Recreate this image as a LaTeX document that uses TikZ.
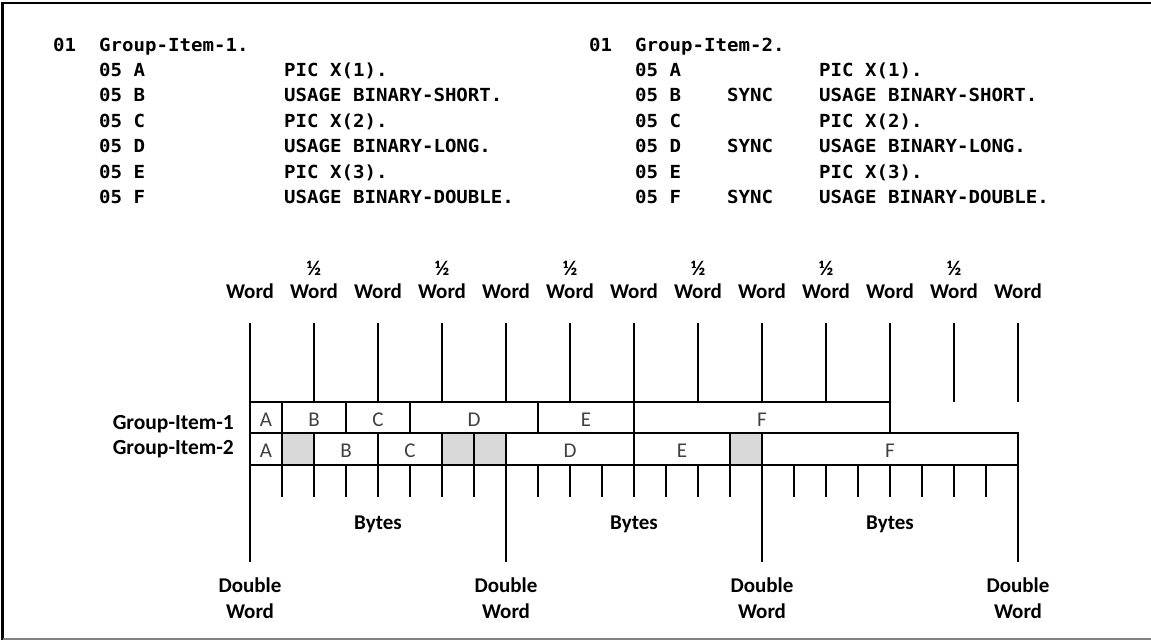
\documentclass[tikz,border=0pt]{standalone}
\usepackage{fontspec}
\setmainfont{Carlito}
\newfontfamily\codefont[FakeStretch=1.06]{DejaVu Sans Mono}
\definecolor{cellgray}{HTML}{D9D9D9}
\definecolor{lettergray}{HTML}{404040}
\begin{document}
\begin{tikzpicture}[x=1pt,y=-1pt,
  ln/.style={line width=2pt},
  code/.style={anchor=base west,inner sep=0pt,font=\codefont\bfseries\fontsize{18}{20}\selectfont},
  lbl/.style={anchor=base,inner sep=0pt,font=\bfseries\fontsize{21}{24}\selectfont},
  grp/.style={anchor=base east,inner sep=0pt,font=\bfseries\fontsize{21.5}{24}\selectfont},
  cell/.style={anchor=base,inner sep=0pt,text=lettergray,font=\fontsize{21}{24}\selectfont}]
\useasboundingbox (0,0) rectangle (1151,642);
\fill[white] (0,0) rectangle (1151,642);
% frame
\draw[line width=2.5pt] (2.5,640) -- (2.5,3) -- (1151,3);
\draw[line width=1.2pt,gray] (2.5,639) -- (1151,639);
% ---- code, left
\node[code] (l0) at (53,51.1) {01};
\node[code] (l0g) at (99,51.1) {Group-Item-1.};
\node[code] (l1) at (99,76.5) {05 A};
\node[code] (l1p) at (284,76.5) {PIC X(1).};
\node[code] (l2) at (99,101.9) {05 B};
\node[code] (l2p) at (284,101.9) {USAGE BINARY-SHORT.};
\node[code] (l3) at (99,127.3) {05 C};
\node[code] (l3p) at (284,127.3) {PIC X(2).};
\node[code] (l4) at (99,152.7) {05 D};
\node[code] (l4p) at (284,152.7) {USAGE BINARY-LONG.};
\node[code] (l5) at (99,178.1) {05 E};
\node[code] (l5p) at (284,178.1) {PIC X(3).};
\node[code] (l6) at (99,203.5) {05 F};
\node[code] (l6p) at (284,203.5) {USAGE BINARY-DOUBLE.};
% ---- code, right
\node[code] (r0) at (589,51.1) {01};
\node[code] (r0g) at (635,51.1) {Group-Item-2.};
\node[code] (r1) at (635,76.5) {05 A};
\node[code] (r1p) at (819,76.5) {PIC X(1).};
\node[code] (r2) at (635,101.9) {05 B};
\node[code] (r2s) at (727,101.9) {SYNC};
\node[code] (r2p) at (819,101.9) {USAGE BINARY-SHORT.};
\node[code] (r3) at (635,127.3) {05 C};
\node[code] (r3p) at (819,127.3) {PIC X(2).};
\node[code] (r4) at (635,152.7) {05 D};
\node[code] (r4s) at (727,152.7) {SYNC};
\node[code] (r4p) at (819,152.7) {USAGE BINARY-LONG.};
\node[code] (r5) at (635,178.1) {05 E};
\node[code] (r5p) at (819,178.1) {PIC X(3).};
\node[code] (r6) at (635,203.5) {05 F};
\node[code] (r6s) at (727,203.5) {SYNC};
\node[code] (r6p) at (819,203.5) {USAGE BINARY-DOUBLE.};
% ---- header labels and word lines
\foreach \k in {0,...,12}{
  \pgfmathsetmacro{\xx}{250+64*\k}
  \draw[ln] (\xx,323) -- (\xx,402);
  \ifodd\k
    \node[lbl] (h\k) at (\xx,275) {½};
  \fi
  \node[lbl] (w\k) at (\xx,298.8) {Word};
}
% ---- gray padding cells
\fill[cellgray] (282,433) rectangle (314,465);
\fill[cellgray] (442,433) rectangle (506,465);
\fill[cellgray] (730,433) rectangle (762,465);
% ---- row 1
\draw[ln] (250,402) rectangle (890,433);
\foreach \xx in {282,346,410,538,634}{\draw[ln] (\xx,402) -- (\xx,433);}
% ---- row 2
\draw[ln] (250,433) rectangle (1018,465);
\foreach \xx in {282,314,378,442,474,506,634,730,762}{\draw[ln] (\xx,433) -- (\xx,465);}
% ---- byte ticks
\foreach \k in {1,...,23}{
  \pgfmathsetmacro{\xx}{250+32*\k}
  \draw[ln] (\xx,465) -- (\xx,497);
}
% ---- double word lines
\foreach \k in {0,1,2,3}{
  \pgfmathsetmacro{\xx}{250+256*\k}
  \draw[ln] (\xx,465) -- (\xx,562);
  \node[lbl] (dd\k) at (\xx,592.8) {Double};
  \node[lbl] (dw\k) at (\xx,618.8) {Word};
}
% ---- cell letters
\node[cell] (a1) at (266,426) {A};
\node[cell] (b1) at (314,426) {B};
\node[cell] (c1) at (378,426) {C};
\node[cell] (d1) at (474,426) {D};
\node[cell] (e1) at (586,426) {E};
\node[cell] (f1) at (762,426) {F};
\node[cell] (a2) at (266,457.5) {A};
\node[cell] (b2) at (346,457.5) {B};
\node[cell] (c2) at (410,457.5) {C};
\node[cell] (d2) at (570,457.5) {D};
\node[cell] (e2) at (682,457.5) {E};
\node[cell] (f2) at (890,457.5) {F};
% ---- group labels
\node[grp] (g1) at (234,429) {Group-Item-1};
\node[grp] (g2) at (234,454) {Group-Item-2};
% ---- bytes labels
\node[lbl] (by1) at (378,529.8) {Bytes};
\node[lbl] (by2) at (634,529.8) {Bytes};
\node[lbl] (by3) at (890,529.8) {Bytes};
\end{tikzpicture}
\end{document}
